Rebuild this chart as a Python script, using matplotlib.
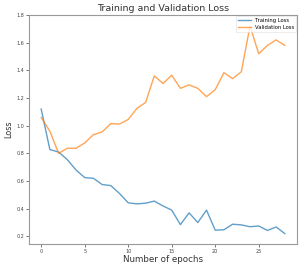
import matplotlib
matplotlib.use("Agg")
import matplotlib.pyplot as plt

epochs = list(range(29))
train_loss = [1.12, 0.827, 0.81, 0.755, 0.68, 0.625, 0.62, 0.575, 0.567, 0.51,
              0.443, 0.435, 0.44, 0.455, 0.42, 0.39, 0.285, 0.37, 0.30, 0.39,
              0.245, 0.248, 0.288, 0.283, 0.27, 0.275, 0.243, 0.268, 0.22]
val_loss = [1.06, 0.96, 0.80, 0.837, 0.837, 0.875, 0.935, 0.955, 1.015, 1.012,
            1.045, 1.125, 1.168, 1.36, 1.305, 1.365, 1.27, 1.295, 1.27, 1.21,
            1.26, 1.383, 1.34, 1.39, 1.72, 1.52, 1.58, 1.62, 1.58]

fig = plt.figure(figsize=(3.04, 2.68), dpi=100)
ax = fig.add_axes([29/304, 24/268, 268/304, 229/268])
ax.plot(epochs, train_loss, color="#1f77b4", alpha=0.7, lw=1.0, label="Training Loss")
ax.plot(epochs, val_loss, color="#ff7f0e", alpha=0.7, lw=1.0, label="Validation Loss")
ax.set_title("Training and Validation Loss", fontsize=6.8, color="#333333", pad=3)
ax.set_xlabel("Number of epochs", fontsize=6.3, color="#333333", labelpad=1)
ax.set_ylabel("Loss", fontsize=5.8, color="#333333", labelpad=2)
ax.set_xticks([0, 5, 10, 15, 20, 25])
ax.set_yticks([0.2, 0.4, 0.6, 0.8, 1.0, 1.2, 1.4, 1.6, 1.8])
ax.tick_params(labelsize=3.5, length=2, width=0.5, pad=1.5, colors="#444444")
for s in ax.spines.values():
    s.set_color("#999999")
    s.set_linewidth(0.8)
leg = ax.legend(loc="upper right", fontsize=3.8, frameon=True, handlelength=2.5,
                borderaxespad=0.1, fancybox=False, borderpad=0.4)
leg.get_frame().set_edgecolor("#dddddd")
leg.get_frame().set_linewidth(0.5)
fig.savefig("out.png", dpi=100)
